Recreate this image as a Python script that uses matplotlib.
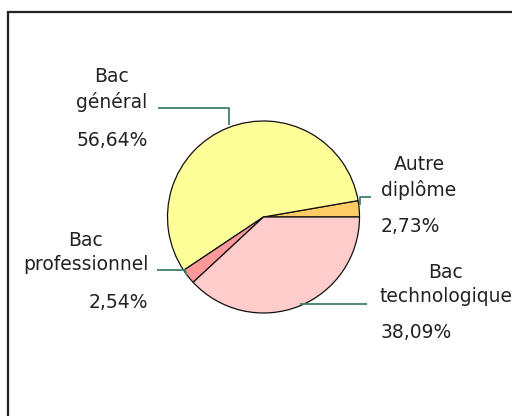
import matplotlib
matplotlib.use("Agg")
import matplotlib.pyplot as plt
from matplotlib.patches import Rectangle

labels = ["Autre\ndiplôme", "Bac\ngénéral", "Bac\nprofessionnel", "Bac\ntechnologique"]
values = [2.73, 56.64, 2.54, 38.09]
pct_labels = ["2,73%", "56,64%", "2,54%", "38,09%"]
colors = ["#FFCC66", "#FFFF99", "#FF9999", "#FFCCCC"]

W, H = 512, 416
fig = plt.figure(figsize=(W / 100, H / 100), dpi=100)
ax = fig.add_axes([0, 0, 1, 1])

def Y(y):
    return H - y

ax.pie(values, colors=colors, startangle=0, counterclock=True,
       center=(263.5, Y(217)), radius=96, frame=True,
       wedgeprops=dict(edgecolor="#111111", linewidth=0.9))
ax.set_xlim(0, W)
ax.set_ylim(0, H)
ax.set_aspect("auto")
ax.axis("off")

# frame
ax.add_patch(Rectangle((8, Y(500)), 600, 500 - 12, fill=False,
                       edgecolor="#222222", linewidth=1.6, clip_on=False))

txt = dict(fontsize=13.5, color="#222222", family="DejaVu Sans", va="center", ha="center")

# label texts: (name lines, name center x, line y's, pct x, pct y)
name_pos = [
    (419, 165, 190, 410, 227),
    (112, 77, 102, 112, 140),
    (86, 240, 265, 118, 302),
    (446, 272, 297, 416, 333),
]
for lab, pct, (cx, y1, y2, px, py) in zip(labels, pct_labels, name_pos):
    l1, l2 = lab.split("\n")
    ax.text(cx, Y(y1), l1, **txt)
    ax.text(cx, Y(y2), l2, **txt)
    ax.text(px, Y(py), pct, **txt)

lc = "#3F8070"
leaders = [
    [(360, 205), (360, 197), (371, 197)],
    [(158, 108), (229, 108), (229, 125)],
    [(157, 270), (185, 270), (187, 276)],
    [(300, 304), (367, 304)],
]
for pts in leaders:
    xs = [p[0] for p in pts]
    ys = [Y(p[1]) for p in pts]
    ax.plot(xs, ys, color=lc, linewidth=1.3, solid_capstyle="butt")

fig.savefig("out.png", dpi=100, facecolor="white")
